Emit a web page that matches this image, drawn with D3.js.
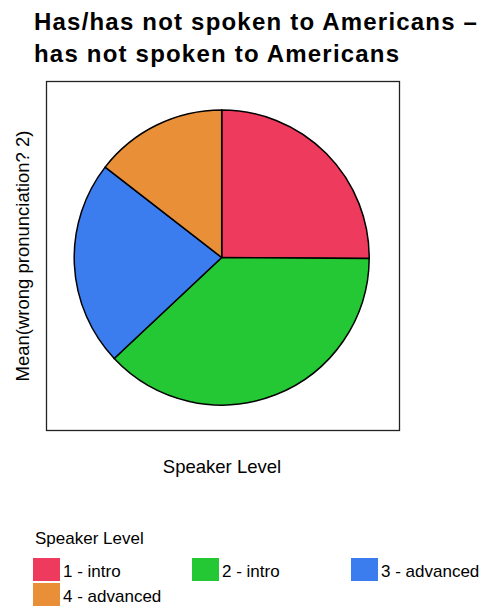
<!DOCTYPE html>
<html><head><meta charset="utf-8">
<script src="https://cdn.jsdelivr.net/npm/d3@7"></script>
<style>body{margin:0;background:#fff}svg{display:block}text{font-family:"Liberation Sans",Arial,sans-serif;fill:#000}</style>
</head><body>
<script>
const categories = ["1 - intro", "2 - intro", "3 - advanced", "4 - advanced"];
const values = [25.1, 37.9, 22.5, 14.5];
const colors = ["#EE3B5D", "#23C834", "#3B7CEE", "#E88F37"];
const titleLines = ["Has/has not spoken to Americans \u2013", "has not spoken to Americans"];
const xTitle = "Speaker Level";
const yTitle = "Mean(wrong pronunciation? 2)";
const legendTitle = "Speaker Level";

const W = 492, H = 606;
const svg = d3.select("body").append("svg").attr("width", W).attr("height", H);

svg.selectAll("text.title").data(titleLines).enter().append("text")
  .attr("class","title").attr("x", 34).attr("y", (d,i)=>30 + i*32)
  .attr("font-size", 24).attr("letter-spacing", 1.2).attr("font-weight","bold").text(d=>d);

const frame = {x:46.5, y:81.5, w:353, h:349};
svg.append("rect").attr("x",frame.x).attr("y",frame.y).attr("width",frame.w).attr("height",frame.h)
  .attr("fill","none").attr("stroke","#222").attr("stroke-width",1.3);

const cx = 221.7, cy = 257.5, r = 147.5;
const color = d3.scaleOrdinal().domain(categories).range(colors);
const pie = d3.pie().sort(null).value(d=>d.v);
const arc = d3.arc().innerRadius(0).outerRadius(r);
const data = categories.map((c,i)=>({c, v: values[i]}));
svg.append("g").attr("transform",`translate(${cx},${cy})`)
  .selectAll("path").data(pie(data)).enter().append("path")
  .attr("d", arc).attr("fill", d=>color(d.data.c))
  .attr("stroke","#000").attr("stroke-width",1.5).attr("stroke-linejoin","round");

svg.append("text").attr("x", 222).attr("y", 473).attr("text-anchor","middle")
  .attr("font-size", 18.5).text(xTitle);
svg.append("text").attr("transform", `translate(29,256) rotate(-90)`).attr("text-anchor","middle")
  .attr("font-size", 18.5).text(yTitle);

svg.append("text").attr("x", 35).attr("y", 544).attr("font-size", 17).text(legendTitle);
const legX = d3.scalePoint().domain([0,1,2]).range([33, 351]);
const items = svg.selectAll("g.leg").data(categories).enter().append("g").attr("class","leg")
  .attr("transform",(d,i)=>`translate(${legX(i%3)},${558 + Math.floor(i/3)*25})`);
items.append("rect").attr("width",27).attr("height",23).attr("fill",d=>color(d));
items.append("text").attr("x",30).attr("y",19).attr("font-size",17).text(d=>d);
</script>
</body></html>
